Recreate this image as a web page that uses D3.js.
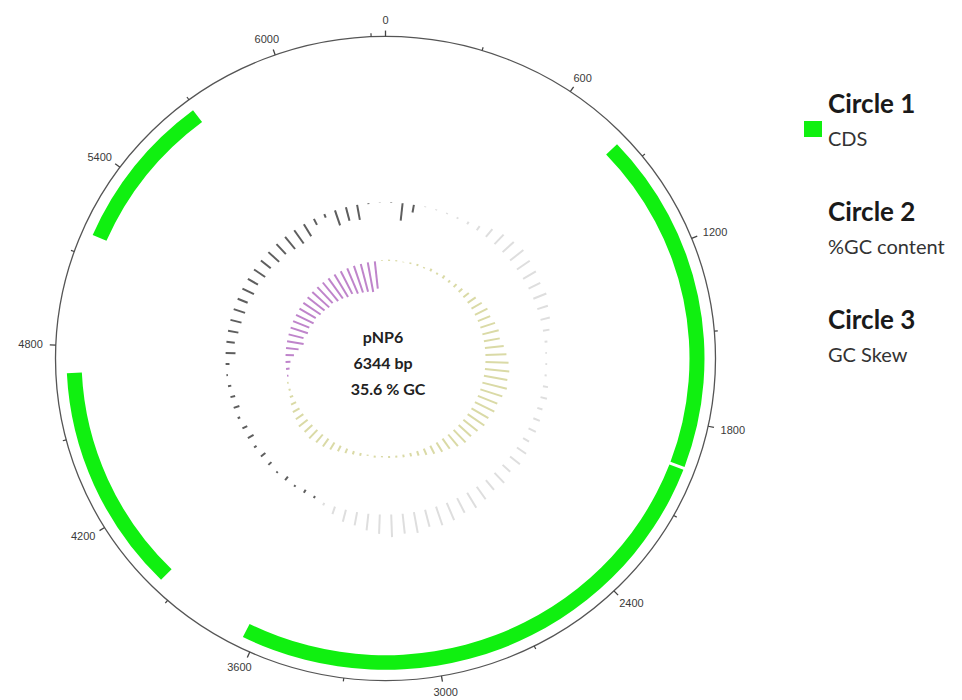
<!DOCTYPE html>
<html>
<head>
<meta charset="utf-8">
<script src="https://cdn.jsdelivr.net/npm/d3@7"></script>
<style>
  html, body { margin: 0; padding: 0; background: #fff; }
  svg { display: block; }
</style>
</head>
<body>
<svg id="map" width="962" height="700"></svg>
<script>
// Plasmid pNP6 circular map: CDS ring, GC content ring, GC skew ring
const plasmidName = "pNP6";
const seqLength = 6344;
const gcMean = 35.6;

// Coding sequences (bp)
const cdsStart = [820, 1955, 3960, 5170];
const cdsEnd   = [1945, 3640, 4710, 5690];

// Ruler labels (bp)
const majorTicks = [0, 600, 1200, 1800, 2400, 3000, 3600, 4200, 4800, 5400, 6000];
const minorTicks = [300, 900, 1500, 2100, 2700, 3300, 3900, 4500, 5100, 5700, 6300];

// Sliding-window %GC (88 windows)
const gcContent = [
  35.2, 23.6, 30.3, 36.3, 36.4, 36.6, 36.8, 37.6, 39.0, 42.5,
  44.5, 45.8, 47.0, 46.0, 45.5, 44.3, 45.0, 43.0, 42.0, 40.0,
  37.5, 36.6, 36.8, 37.0, 39.0, 40.0, 39.2, 40.3, 41.0, 40.2,
  43.0, 44.0, 42.5, 45.0, 44.2, 46.0, 47.5, 46.8, 48.5, 49.0,
  47.6, 50.0, 49.2, 51.0, 48.8, 47.0, 44.8, 44.0, 41.0, 37.6,
  34.0, 33.2, 34.2, 32.6, 34.4, 32.8, 31.8, 33.6, 31.2, 32.0,
  33.8, 31.6, 32.4, 33.4, 34.6, 33.0, 29.0, 30.0, 28.6, 28.0,
  27.6, 28.4, 27.0, 27.8, 26.6, 27.2, 25.8, 26.4, 25.0, 24.6,
  26.0, 31.0, 33.0, 24.8, 26.0, 25.2, 35.0, 35.4
];

// Sliding-window GC skew (G-C)/(G+C) (88 windows)
const gcSkew = [
  0.02, 0.02, 0.01, 0.02, 0.03, 0.02, 0.04, 0.03, 0.05, 0.04,
  0.06, 0.07, 0.10, 0.14, 0.17, 0.20, 0.19, 0.22, 0.24, 0.23,
  0.27, 0.30, 0.33, 0.35, 0.34, 0.36, 0.33, 0.30, 0.31, 0.28,
  0.29, 0.26, 0.24, 0.25, 0.22, 0.18, 0.16, 0.13, 0.10, 0.07,
  0.05, 0.04, 0.03, 0.03, 0.02, 0.03, 0.02, 0.04, 0.05, 0.07,
  0.09, 0.12, 0.14, 0.15, 0.17, 0.15, 0.16, 0.13, 0.11, 0.08,
  0.05, 0.03, 0.02, -0.02, -0.05, -0.07, -0.12, -0.18, -0.24, -0.22,
  -0.26, -0.25, -0.28, -0.27, -0.30, -0.31, -0.33, -0.32, -0.35, -0.36,
  -0.38, -0.37, -0.40, -0.41, -0.42, -0.44, -0.40, 0.01
];

// Legend
const legendTitles = ["Circle 1", "Circle 2", "Circle 3"];
const legendLabels = ["CDS", "%GC content", "GC Skew"];

// ---------- layout ----------
const cx = 385.5, cy = 358.5;
const yScale = 0.976;          // slight vertical squeeze of the whole map
const rBackbone = 330;
const cdsInner = 304, cdsOuter = 319;
const gcBase = 160;
const skewBase = 100;

const svg = d3.select("#map");
const angle = d3.scaleLinear().domain([0, seqLength]).range([0, 2 * Math.PI]);

const map = svg.append("g")
  .attr("transform", `translate(${cx},${cy}) scale(1,${yScale})`);

// backbone
map.append("circle")
  .attr("r", rBackbone)
  .attr("fill", "none")
  .attr("stroke", "#555")
  .attr("stroke-width", 1.3);

// ruler ticks
function polar(r, a) { return [r * Math.sin(a), -r * Math.cos(a)]; }
map.selectAll("line.major").data(majorTicks).join("line")
  .attr("class", "major")
  .attr("x1", d => polar(rBackbone, angle(d))[0])
  .attr("y1", d => polar(rBackbone, angle(d))[1])
  .attr("x2", d => polar(rBackbone + 6, angle(d))[0])
  .attr("y2", d => polar(rBackbone + 6, angle(d))[1])
  .attr("stroke", "#444").attr("stroke-width", 1.3);
map.selectAll("line.minor").data(minorTicks).join("line")
  .attr("class", "minor")
  .attr("x1", d => polar(rBackbone, angle(d))[0])
  .attr("y1", d => polar(rBackbone, angle(d))[1])
  .attr("x2", d => polar(rBackbone + 3.5, angle(d))[0])
  .attr("y2", d => polar(rBackbone + 3.5, angle(d))[1])
  .attr("stroke", "#444").attr("stroke-width", 1.2);

// tick labels (drawn unsqueezed so text keeps its shape)
const labelR = rBackbone + 13;
const tickText = svg.append("g")
  .attr("font-family", "'Liberation Sans', Arial, sans-serif")
  .attr("font-size", 11)
  .attr("fill", "#3a3a3a");
tickText.selectAll("text").data(majorTicks).join("text")
  .text(d => d)
  .each(function(d) {
    const a = angle(d);
    const s = Math.sin(a), c = Math.cos(a);
    const w = this.getComputedTextLength();
    const px = cx + labelR * s;
    const py = cy - labelR * c * yScale;
    d3.select(this)
      .attr("x", px - w * (1 - s) / 2)
      .attr("y", py + 8 * (1 - c) / 2);
  });

// Circle 1: CDS
const cdsArc = d3.arc().innerRadius(cdsInner).outerRadius(cdsOuter);
map.selectAll("path.cds").data(cdsStart.map((s, i) => ({ s, e: cdsEnd[i] }))).join("path")
  .attr("class", "cds")
  .attr("d", d => cdsArc({ startAngle: angle(d.s), endAngle: angle(d.e) }))
  .attr("fill", "#10f010");

// Circle 2: GC content, deviation from the mean
const step = seqLength / gcContent.length;
const gcLen = d3.scaleLinear().domain([-15, 15]).range([-22.5, 22.5]);
map.selectAll("line.gc").data(gcContent).join("line")
  .attr("class", "gc")
  .attr("x1", (d, i) => polar(gcBase, angle((i + 0.5) * step))[0])
  .attr("y1", (d, i) => polar(gcBase, angle((i + 0.5) * step))[1])
  .attr("x2", (d, i) => polar(gcBase + gcLen(d - gcMean), angle((i + 0.5) * step))[0])
  .attr("y2", (d, i) => polar(gcBase + gcLen(d - gcMean), angle((i + 0.5) * step))[1])
  .attr("stroke", d => d >= gcMean ? "#dedede" : "#5e5e5e")
  .attr("stroke-width", 2);

// Circle 3: GC skew
const skewStep = seqLength / gcSkew.length;
const skewLen = d3.scaleLinear().domain([-0.5, 0.5]).range([-35, 35]);
map.selectAll("line.skew").data(gcSkew).join("line")
  .attr("class", "skew")
  .attr("x1", (d, i) => polar(skewBase, angle((i + 0.5) * skewStep))[0])
  .attr("y1", (d, i) => polar(skewBase, angle((i + 0.5) * skewStep))[1])
  .attr("x2", (d, i) => polar(skewBase + skewLen(d), angle((i + 0.5) * skewStep))[0])
  .attr("y2", (d, i) => polar(skewBase + skewLen(d), angle((i + 0.5) * skewStep))[1])
  .attr("stroke", d => d >= 0 ? "#dadaa6" : "#bf84cb")
  .attr("stroke-width", 2);

// centre caption
const caption = [plasmidName, `${seqLength} bp`, `${gcMean} % GC`];
svg.append("g")
  .attr("font-family", "Lato, 'Open Sans', sans-serif")
  .attr("font-weight", "bold")
  .attr("font-size", 16)
  .attr("fill", "#222")
  .attr("text-anchor", "middle")
  .selectAll("text").data(caption).join("text")
  .attr("x", (d, i) => i === 2 ? 388 : 383)
  .attr("y", (d, i) => 343 + i * 26)
  .text(d => d);

// legend
const legend = svg.append("g").attr("font-family", "Lato, 'Open Sans', sans-serif");
legend.append("rect")
  .attr("x", 804).attr("y", 121).attr("width", 18).attr("height", 16)
  .attr("fill", "#10f010");
legend.selectAll("text.title").data(legendTitles).join("text")
  .attr("class", "title")
  .attr("x", 828).attr("y", (d, i) => 113 + i * 108)
  .attr("font-size", 26).attr("font-weight", "bold").attr("fill", "#1a1a1a")
  .text(d => d);
legend.selectAll("text.label").data(legendLabels).join("text")
  .attr("class", "label")
  .attr("x", 828).attr("y", (d, i) => 146 + i * 108)
  .attr("font-size", 20).attr("fill", "#333")
  .text(d => d);
</script>
</body>
</html>
